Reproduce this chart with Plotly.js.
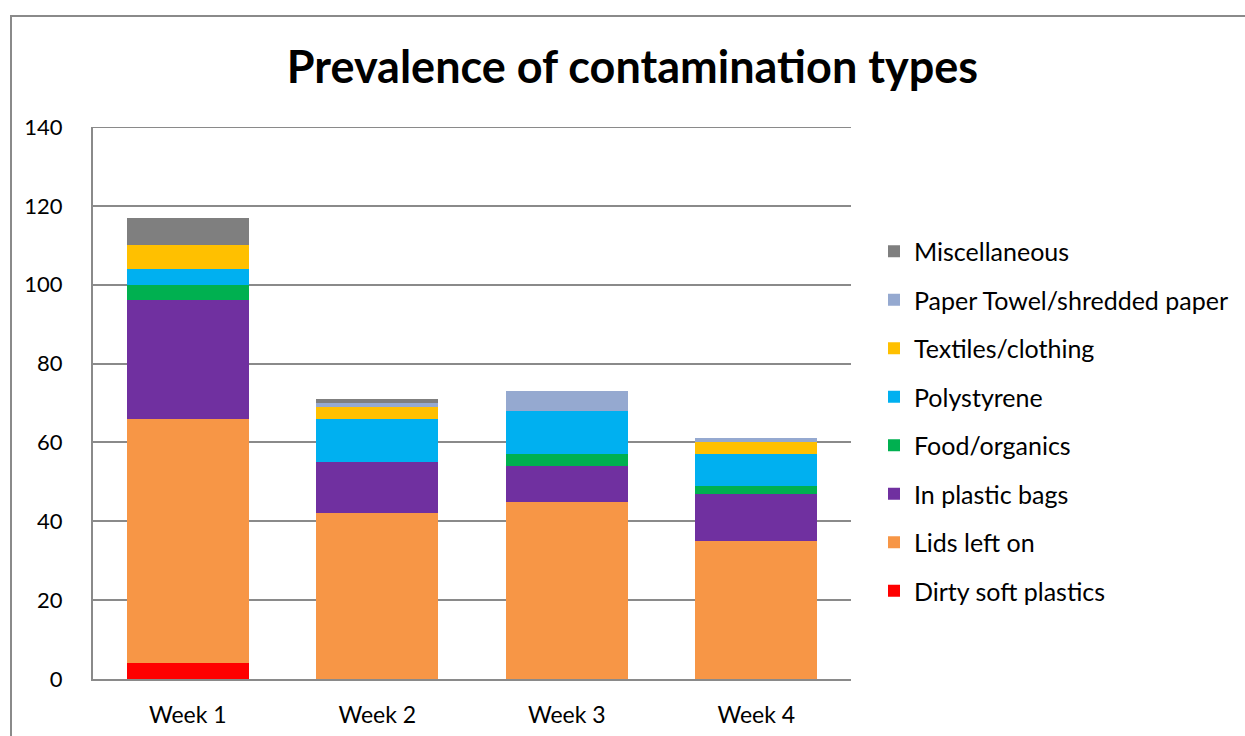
<!DOCTYPE html>
<html><head><meta charset="utf-8">
<script src="https://cdn.plot.ly/plotly-3.0.1.min.js"></script>
<style>
body{margin:0;padding:0;background:#fff;}
#wrap{position:relative;width:1245px;height:736px;}
#chart{width:1245px;height:736px;}
#frame{position:absolute;left:10px;top:15px;width:1245px;height:740px;border:2px solid #8a8a8a;pointer-events:none;box-sizing:border-box;}
</style></head>
<body>
<div id="wrap"><div id="chart"></div><div id="frame"></div></div>
<script>
const weeks = ["Week 1","Week 2","Week 3","Week 4"];
const dirtySoftPlastics = [4, 0, 0, 0];
const lidsLeftOn = [62, 42, 45, 35];
const inPlasticBags = [30, 13, 9, 12];
const foodOrganics = [4, 0, 3, 2];
const polystyrene = [4, 11, 11, 8];
const textilesClothing = [6, 3, 0, 3];
const paperTowel = [0, 1, 5, 1];
const miscellaneous = [7, 1, 0, 0];

const series = [
  ["Dirty soft plastics", dirtySoftPlastics, "#FF0000"],
  ["Lids left on", lidsLeftOn, "#F79646"],
  ["In plastic bags", inPlasticBags, "#7030A0"],
  ["Food/organics", foodOrganics, "#00B050"],
  ["Polystyrene", polystyrene, "#00B0F0"],
  ["Textiles/clothing", textilesClothing, "#FFC000"],
  ["Paper Towel/shredded paper", paperTowel, "#95A9D0"],
  ["Miscellaneous", miscellaneous, "#7F7F7F"]
];
const traces = series.map((s,i)=>({
  type:'bar', name:s[0], x:weeks, y:s[1], legendgroup:'g'+i, legendrank:1000-i,
  marker:{color:s[2], line:{width:0}}, hoverinfo:'name+y'
}));
const font = "Lato, 'Open Sans', sans-serif";
const layout = {
  width:1245, height:736,
  margin:{l:93, r:394, t:127, b:57},
  barmode:'stack', bargap:0.356,
  paper_bgcolor:'#fff', plot_bgcolor:'#fff',
  font:{family:font, size:22, color:'#000'},
  title:{text:'<b>Prevalence of contamination types</b>', font:{family:font, size:45, color:'#000'}, x:0.508, xref:'container', xanchor:'center', y:0.909, yref:'container', yanchor:'middle'},
  xaxis:{showgrid:false, showline:true, linecolor:'#8a8a8a', linewidth:2, ticks:'', tickfont:{size:23}, ticklabelstandoff:14},
  yaxis:{range:[0,140], dtick:20, showgrid:true, gridcolor:'#8a8a8a', gridwidth:2, showline:true, linecolor:'#8a8a8a', linewidth:2, ticks:'', tickfont:{size:22}, ticklabelstandoff:24, zeroline:false},
  shapes:[{type:'line', xref:'paper', yref:'y', x0:0, x1:1, y0:140, y1:140, line:{color:'#8a8a8a', width:2}}],
  legend:{x:874/1245, xref:'container', y:(679-421)/552, yref:'paper', xanchor:'left', yanchor:'middle', traceorder:'grouped', font:{size:25}, tracegroupgap:13, itemwidth:30}
};
Plotly.newPlot('chart', traces, layout, {displayModeBar:false, staticPlot:true});
</script>
</body></html>
